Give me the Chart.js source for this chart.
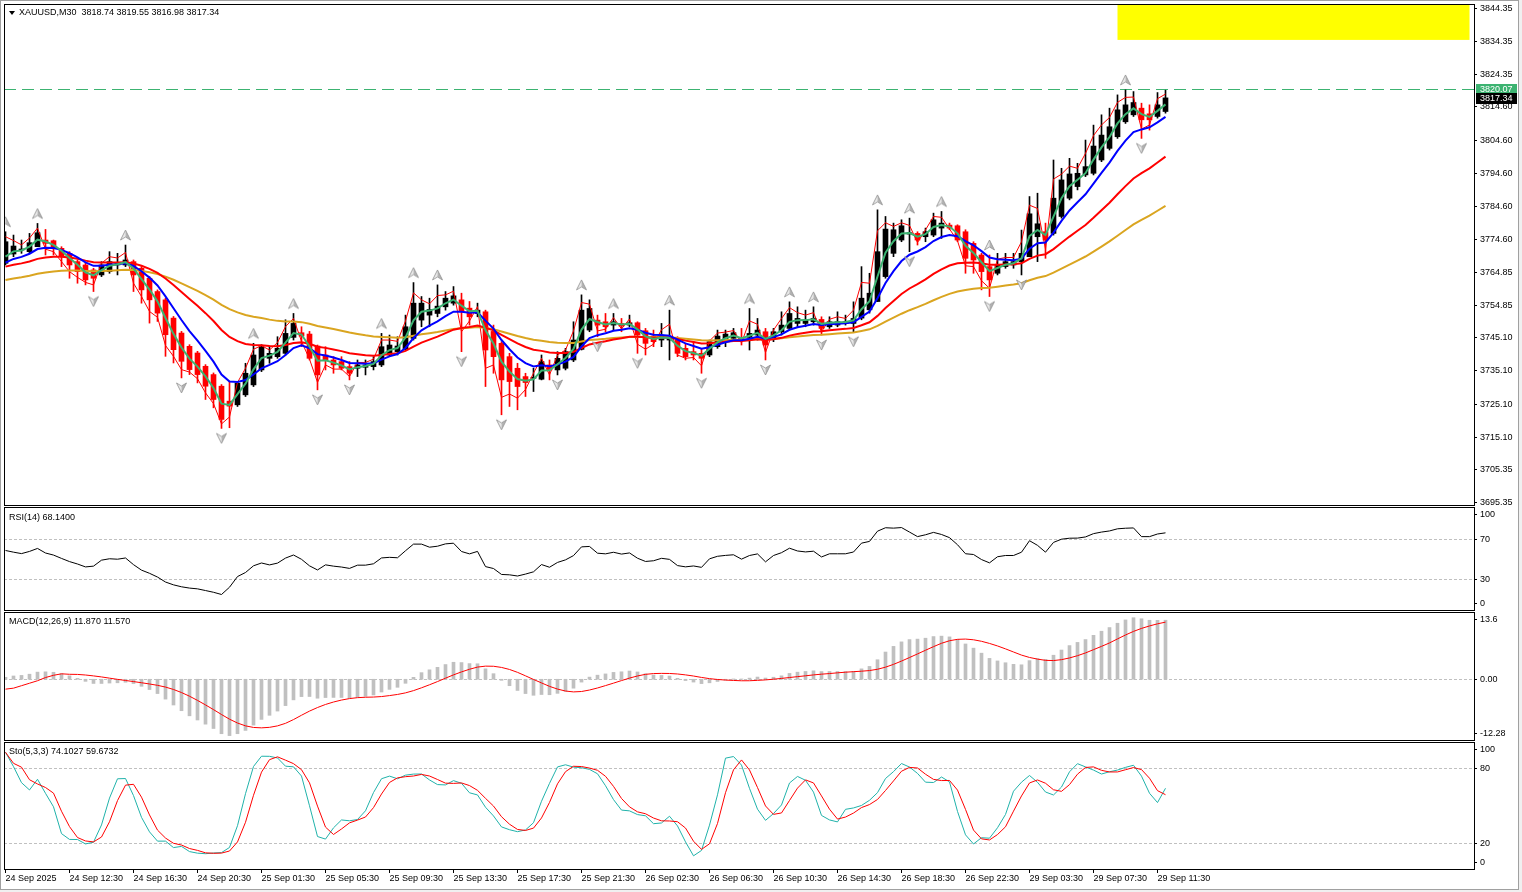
<!DOCTYPE html>
<html>
<head>
<meta charset="utf-8">
<title>XAUUSD,M30</title>
<script src="https://cdn.jsdelivr.net/npm/chart.js@4.4.1/dist/chart.umd.min.js"></script>
<style>
  html, body { margin:0; padding:0; background:#ffffff; overflow:hidden; }
  #wrap { position:relative; width:1522px; height:892px; background:#ffffff; }
  #wrap canvas { position:absolute; left:0; }
  .t { position:absolute; font-family:"Liberation Sans", Arial, sans-serif; font-size:9px; line-height:11px; color:#000; white-space:pre; }
  .fr { position:absolute; }
</style>
</head>
<body>
<div id="wrap">
  <canvas id="cMain" width="1522" height="507" style="top:0px;width:1522px;height:507px"></canvas>
  <canvas id="cRsi" width="1522" height="104" style="top:507px;width:1522px;height:104px"></canvas>
  <canvas id="cMacd" width="1522" height="130" style="top:611px;width:1522px;height:130px"></canvas>
  <canvas id="cSto" width="1522" height="151" style="top:741px;width:1522px;height:151px"></canvas>
  <div class="fr" style="left:9px;top:11px;width:0;height:0;border-left:3px solid transparent;border-right:3px solid transparent;border-top:4px solid #000"></div>
  <div class="t" style="left:19px;top:7px">XAUUSD,M30  3818.74 3819.55 3816.98 3817.34</div>
  <div class="t" style="left:9px;top:512px">RSI(14) 68.1400</div>
  <div class="t" style="left:9px;top:616px">MACD(12,26,9) 11.870 11.570</div>
  <div class="t" style="left:9px;top:746px">Sto(5,3,3) 74.1027 59.6732</div>
  <div class="fr" style="left:0;top:0;width:1518px;height:1px;background:#a0a0a0"></div>
  <div class="fr" style="left:0;top:0;width:1px;height:889px;background:#a0a0a0"></div>
  <div class="fr" style="left:1518px;top:0;width:1px;height:890px;background:#a0a0a0"></div>
  <div class="fr" style="left:1519px;top:0;width:3px;height:892px;background:#f0f0f0"></div>
  <div class="fr" style="left:0;top:889px;width:1519px;height:1px;background:#a0a0a0"></div>
  <div class="fr" style="left:0;top:890px;width:1522px;height:2px;background:#f0f0f0"></div>
</div>
<script>
// ---------------- DATA ----------------
const opens = [
 3767.5,3770.3,3771.5,3771.0,3772.5,3774.5,3774.3,3772.0,3770.5,3768.0,
 3767.0,3765.5,3764.0,3765.0,3767.0,3767.0,3768.0,3766.0,3763.0,3759.0,
 3756.5,3751.0,3746.5,3742.5,3740.5,3736.5,3734.0,3730.5,3726.0,3724.9,
 3727.9,3730.9,3735.4,3738.9,3739.4,3740.4,3745.2,3746.6,3746.2,3742.6,
 3739.9,3738.4,3737.9,3736.4,3735.9,3736.2,3736.4,3736.9,3739.9,3740.9,
 3741.6,3744.9,3750.4,3751.9,3752.4,3754.4,3755.5,3756.5,3754.0,3752.4,
 3752.9,3747.0,3743.4,3739.4,3735.9,3733.4,3732.9,3732.6,3736.9,3735.4,
 3735.9,3738.4,3741.6,3747.4,3750.4,3749.9,3748.9,3749.4,3748.9,3749.6,
 3747.2,3745.6,3744.4,3744.4,3744.4,3741.9,3740.9,3740.4,3739.9,3742.4,
 3744.4,3744.9,3745.2,3745.2,3745.9,3746.9,3744.9,3746.9,3747.9,3749.4,
 3749.4,3749.9,3750.6,3748.4,3748.9,3749.4,3749.4,3751.0,3753.5,3756.0,
 3763.5,3770.5,3774.5,3776.3,3776.5,3775.5,3776.0,3778.1,3779.0,3778.8,
 3777.0,3773.5,3770.0,3766.5,3764.5,3766.5,3767.0,3768.0,3769.5,3775.5,
 3777.0,3776.5,3781.6,3787.1,3790.6,3794.1,3794.6,3798.6,3802.1,3805.6,
 3810.1,3812.2,3814.2,3812.5,3811.7,3813.2];
const highs = [
 3777.0,3776.0,3774.5,3776.5,3779.5,3777.7,3774.5,3772.5,3771.0,3768.5,
 3767.5,3766.0,3768.0,3771.0,3770.5,3773.0,3768.5,3766.5,3763.5,3759.5,
 3757.0,3751.5,3747.0,3743.0,3741.0,3737.0,3734.5,3731.0,3732.0,3731.9,
 3737.4,3743.4,3743.0,3742.4,3745.4,3750.5,3752.4,3748.4,3747.0,3742.9,
 3742.4,3739.4,3739.4,3737.9,3738.4,3738.4,3739.4,3746.4,3745.9,3745.4,
 3751.9,3761.7,3757.5,3757.0,3761.0,3759.0,3760.5,3758.5,3756.0,3755.5,
 3753.4,3748.9,3743.9,3740.4,3737.4,3734.4,3735.9,3739.9,3738.4,3740.9,
 3741.9,3749.9,3758.0,3756.5,3751.9,3752.4,3752.4,3750.9,3751.9,3749.9,
 3747.9,3747.4,3749.4,3753.4,3745.4,3743.4,3743.9,3741.9,3744.4,3747.4,
 3747.4,3747.9,3747.9,3753.9,3750.9,3747.9,3747.9,3752.9,3755.9,3754.4,
 3753.4,3754.4,3751.4,3751.4,3752.9,3751.9,3755.9,3766.5,3764.5,3783.6,
 3781.6,3779.6,3780.6,3781.1,3777.0,3778.1,3782.6,3783.1,3779.6,3779.1,
 3777.6,3774.0,3770.5,3770.0,3770.5,3770.5,3770.5,3777.5,3787.6,3788.6,
 3779.6,3798.6,3796.1,3799.1,3797.6,3804.6,3809.1,3812.2,3814.2,3818.2,
 3819.7,3819.2,3815.7,3815.2,3818.9,3819.6];
const lows = [
 3767.0,3769.5,3770.5,3770.5,3772.5,3770.0,3770.0,3766.5,3763.0,3761.5,
 3761.0,3759.0,3763.5,3764.5,3764.0,3766.5,3759.0,3755.5,3749.5,3750.0,
 3739.5,3737.5,3733.0,3734.0,3731.5,3726.5,3724.0,3717.8,3718.0,3724.4,
 3727.4,3730.4,3734.9,3737.4,3738.9,3739.9,3744.4,3742.4,3738.4,3729.4,
 3735.4,3734.4,3735.4,3732.4,3733.4,3733.9,3735.4,3736.4,3739.4,3739.9,
 3741.4,3744.4,3748.4,3748.4,3751.4,3753.4,3754.9,3740.9,3748.9,3751.4,
 3730.4,3734.4,3721.9,3724.4,3723.4,3727.4,3728.9,3732.4,3732.4,3733.9,
 3735.4,3737.9,3741.4,3746.9,3745.4,3746.9,3747.4,3746.9,3748.4,3740.4,
 3739.9,3742.4,3742.4,3738.4,3739.4,3738.4,3738.4,3734.4,3739.4,3741.9,
 3742.4,3744.4,3742.9,3741.4,3744.4,3738.4,3743.9,3745.9,3747.4,3748.4,
 3748.4,3748.9,3745.9,3747.9,3748.4,3748.9,3746.9,3750.5,3752.5,3756.0,
 3763.0,3769.5,3774.0,3771.0,3773.0,3774.0,3775.5,3775.0,3777.6,3774.0,
 3764.5,3764.5,3759.5,3757.5,3764.0,3766.0,3766.0,3764.0,3769.5,3768.0,
 3769.0,3776.0,3781.1,3786.6,3789.6,3793.6,3794.1,3798.1,3801.6,3805.1,
 3809.6,3811.7,3805.1,3807.6,3811.2,3812.7];
const closes = [
 3774.0,3772.7,3771.6,3773.7,3776.7,3773.5,3772.0,3769.5,3767.0,3765.0,
 3762.5,3763.0,3767.0,3768.0,3767.7,3768.5,3764.0,3759.5,3756.5,3752.5,
 3746.0,3741.5,3738.0,3735.5,3734.0,3730.5,3726.5,3720.5,3724.5,3731.4,
 3734.4,3739.9,3742.4,3740.4,3741.9,3746.4,3749.4,3745.6,3738.9,3733.9,
 3738.4,3736.9,3735.9,3734.4,3736.9,3736.9,3737.9,3742.4,3742.9,3742.6,
 3748.4,3755.5,3755.5,3753.6,3754.6,3757.0,3757.7,3752.9,3751.4,3753.4,
 3741.4,3739.4,3732.4,3731.9,3730.4,3731.6,3733.0,3737.9,3735.4,3738.9,
 3740.9,3744.4,3753.4,3753.9,3748.9,3748.4,3749.9,3748.6,3749.6,3745.9,
 3743.4,3743.9,3745.6,3744.9,3740.4,3739.4,3739.9,3738.9,3743.9,3745.6,
 3746.2,3746.6,3744.2,3746.4,3747.4,3742.9,3746.9,3748.9,3752.4,3750.9,
 3750.4,3750.9,3747.9,3749.9,3749.9,3749.9,3750.9,3757.0,3758.5,3771.0,
 3777.8,3777.6,3778.8,3776.7,3774.5,3777.0,3780.6,3779.6,3778.1,3774.5,
 3769.0,3768.5,3765.0,3762.5,3767.0,3768.0,3768.0,3770.5,3782.4,3779.4,
 3774.5,3787.1,3792.6,3794.4,3794.6,3796.6,3802.8,3806.1,3808.6,3813.7,
 3815.2,3815.9,3810.7,3810.7,3815.2,3817.3];

const upFractals   = [0,4,15,31,36,47,51,54,72,76,83,93,98,101,109,113,117,123,140];
const downFractals = [11,22,27,39,43,57,62,69,74,79,87,95,102,106,113,123,127,142];

const timeTickLabels = ['24 Sep 2025','24 Sep 12:30','24 Sep 16:30','24 Sep 20:30','25 Sep 01:30',
  '25 Sep 05:30','25 Sep 09:30','25 Sep 13:30','25 Sep 17:30','25 Sep 21:30','26 Sep 02:30',
  '26 Sep 06:30','26 Sep 10:30','26 Sep 14:30','26 Sep 18:30','26 Sep 22:30','29 Sep 03:30',
  '29 Sep 07:30','29 Sep 11:30'];
const priceTickLabels = ['3844.35','3834.35','3824.35','3814.60','3804.60','3794.60','3784.60','3774.60',
  '3764.85','3754.85','3745.10','3735.10','3725.10','3715.10','3705.35','3695.35'];
const rsiTickLabels   = ['100','70','30','0'];
const macdTickLabels  = ['13.6','0.00','-12.28'];
const stochTickLabels = ['100','80','20','0'];
const rsiLevels   = [70, 30];
const macdLevels  = [0];
const stochLevels = [80, 20];

// indicator settings and start values read at the first bar
const maPeriods = [3, 8, 21, 45];
const maSeeds   = [3769.5, 3767.7, 3766.5, 3762.5];
const rsiSeedGainLoss = [2.0, 1.4];
const macdEmaSeeds    = [3769.0, 3768.6];
const macdSignalSeed  = [-2.0, -1.8, -1.3, -0.8, -0.3, 0.35, 0.8, 1.1];
const stochKSeed      = [92.5, 81.1, 68.3, 62.5, 71.0, 59.8];
const stochDSeed      = [92.5, 83.7];

const hLineValue = 3820.07;
const bidValue   = 3817.34;
const rectBars   = [139, 183];
const rectPrices = [3834.75, 3847.0];

// ---------------- derived series ----------------
const N = closes.length;
const idx = Array.from({length: N}, (_, i) => i);
function ema(src, period, seed) {
  const k = 2 / (period + 1), out = [seed];
  for (let i = 1; i < src.length; i++) out.push(out[i-1] + k * (src[i] - out[i-1]));
  return out;
}
const maLines = maPeriods.map((p, j) => ema(closes, p, maSeeds[j]));
const thinLine = closes.map((c, i) => c >= opens[i] ? (highs[i] + c) / 2 : (lows[i] + c) / 2);

const rsi = [];
(function(){
  let ag = rsiSeedGainLoss[0], al = rsiSeedGainLoss[1];
  rsi.push(100 - 100 / (1 + ag / al));
  for (let i = 1; i < N; i++) {
    const d = closes[i] - closes[i-1];
    ag = (ag * 13 + Math.max(d, 0)) / 14;
    al = (al * 13 + Math.max(-d, 0)) / 14;
    rsi.push(al === 0 ? 100 : 100 - 100 / (1 + ag / al));
  }
})();

const e12 = ema(closes, 12, macdEmaSeeds[0]);
const e26 = ema(closes, 26, macdEmaSeeds[1]);
const macdMain = e12.map((v, i) => v - e26[i]);
const macdSignal = macdMain.map((_, i) => {
  if (i < macdSignalSeed.length) return macdSignalSeed[i];
  let s = 0; for (let j = i - 8; j <= i; j++) s += macdMain[j]; return s / 9;
});

const stK = closes.map((c, i) => {
  if (i < stochKSeed.length) return stochKSeed[i];
  let num = 0, den = 0;
  for (let j = i - 2; j <= i; j++) {
    const hh = Math.max(...highs.slice(j - 4, j + 1));
    const ll = Math.min(...lows.slice(j - 4, j + 1));
    num += closes[j] - ll; den += hh - ll;
  }
  return den ? num / den * 100 : 100;
});
const stD = stK.map((_, i) => i < stochDSeed.length ? stochDSeed[i] : (stK[i] + stK[i-1] + stK[i-2]) / 3);

// ---------------- drawing ----------------
const FONT_FAMILY = '"Liberation Sans", Arial, sans-serif';
Chart.defaults.font = { family: FONT_FAMILY, size: 9 };
Chart.defaults.color = '#000';

const X_MIN = -0.1875, X_MAX = X_MIN + 1470 / 8;
const candleColors = closes.map((c, i) => c >= opens[i] ? '#000000' : '#ff0000');
const pts = arr => arr.map((v, i) => ({x: i, y: v}));

function arrowImg(up) {
  const c = document.createElement('canvas'); c.width = 13; c.height = 44;
  const g = c.getContext('2d');
  const cx = 6.5, s = up ? 1 : -1, cy = 22 - 10 * s;
  g.beginPath(); g.moveTo(cx, cy - 5*s); g.lineTo(cx, cy + 2*s); g.lineTo(cx - 5, cy + 5*s); g.closePath();
  g.fillStyle = '#e8e8e8'; g.fill();
  g.beginPath(); g.moveTo(cx, cy - 5*s); g.lineTo(cx + 5, cy + 5*s); g.lineTo(cx, cy + 2*s); g.closePath();
  g.fillStyle = '#b4b4b4'; g.fill();
  g.beginPath(); g.moveTo(cx, cy - 5*s); g.lineTo(cx + 5, cy + 5*s); g.lineTo(cx, cy + 2*s); g.lineTo(cx - 5, cy + 5*s); g.closePath();
  g.strokeStyle = '#909090'; g.lineWidth = 0.8; g.stroke();
  return c;
}
const upImg = arrowImg(true), downImg = arrowImg(false);

const framePlugin = {
  id: 'paneFrame',
  afterDraw(chart) {
    const a = chart.chartArea, c = chart.ctx;
    c.save(); c.strokeStyle = '#000'; c.lineWidth = 1; c.setLineDash([]);
    c.strokeRect(a.left + 0.5, a.top + 0.5, a.right - a.left, a.bottom - a.top);
    c.restore();
  }
};
const levelPlugin = {
  id: 'levels',
  beforeDatasetsDraw(chart, args, o) {
    if (!o || !o.values) return;
    const a = chart.chartArea, s = chart.scales.y, c = chart.ctx;
    c.save(); c.strokeStyle = '#c0c0c0'; c.lineWidth = 1; c.setLineDash([3, 2]);
    o.values.forEach(v => {
      const y = Math.round(s.getPixelForValue(v)) + 0.5;
      c.beginPath(); c.moveTo(a.left, y); c.lineTo(a.right, y); c.stroke();
    });
    c.restore();
  }
};
const sideLabelPlugin = {
  id: 'sideLabels',
  afterDraw(chart, args, o) {
    if (!o || !o.labels) return;
    const a = chart.chartArea, s = chart.scales.y, c = chart.ctx;
    c.save(); c.font = '9px ' + FONT_FAMILY; c.fillStyle = '#000'; c.strokeStyle = '#000'; c.lineWidth = 1;
    c.textAlign = 'left'; c.textBaseline = 'middle';
    o.labels.forEach(t => {
      let y = s.getPixelForValue(parseFloat(t));
      y = Math.min(Math.max(y, a.top + 7), a.bottom - 7);
      const yr = Math.round(y) + 0.5;
      c.beginPath(); c.moveTo(a.right, yr); c.lineTo(a.right + 3, yr); c.stroke();
      c.fillText(t, a.right + 6, y + 0.5);
    });
    c.restore();
  }
};
const mainDecor = {
  id: 'mainDecor',
  beforeDatasetsDraw(chart) {
    const a = chart.chartArea, c = chart.ctx, xs = chart.scales.x, ys = chart.scales.y;
    c.save();
    c.beginPath(); c.rect(a.left, a.top, a.right - a.left, a.bottom - a.top); c.clip();
    const x0 = xs.getPixelForValue(rectBars[0]), x1 = xs.getPixelForValue(rectBars[1]);
    const y0 = ys.getPixelForValue(rectPrices[1]), y1 = ys.getPixelForValue(rectPrices[0]);
    c.fillStyle = '#ffff00'; c.fillRect(x0, y0, x1 - x0, y1 - y0);
    const yl = Math.round(ys.getPixelForValue(hLineValue)) + 0.5;
    c.strokeStyle = 'rgb(60,179,113)'; c.lineWidth = 1; c.setLineDash([12, 6]);
    c.beginPath(); c.moveTo(a.left, yl); c.lineTo(a.right, yl); c.stroke();
    c.restore();
  },
  afterDraw(chart) {
    const a = chart.chartArea, c = chart.ctx, ys = chart.scales.y;
    c.save(); c.font = '9px ' + FONT_FAMILY; c.textAlign = 'left'; c.textBaseline = 'middle';
    [[hLineValue, 'rgb(60,179,113)'], [bidValue, '#000000']].forEach(([v, col]) => {
      const y = Math.round(ys.getPixelForValue(v));
      c.fillStyle = col; c.fillRect(a.right + 2, y - 5, 41, 11);
      c.fillStyle = '#ffffff'; c.fillText(v.toFixed(2), a.right + 6, y + 0.5);
    });
    c.restore();
  }
};

function xScale(show) {
  const x = { type: 'linear', min: X_MIN, max: X_MAX, offset: false, display: show,
    grid: { display: false }, border: { display: false } };
  if (show) {
    x.afterFit = s => { s.height = 23; s.paddingLeft = 0; s.paddingRight = 0; };
    x.afterBuildTicks = s => { s.ticks = timeTickLabels.map((t, k) => ({ value: k * 8 })); };
    x.ticks = { autoSkip: false, maxRotation: 0, minRotation: 0, align: 'start', padding: 0, color: '#000',
      callback: (v, i) => timeTickLabels[i] };
    x.grid = { display: true, drawOnChartArea: false, drawTicks: true, tickLength: 4, color: '#000', offset: false };
  }
  return x;
}
function subY(min, max) {
  return { position: 'right', min, max,
    afterFit: s => { s.width = 48; s.paddingTop = 0; s.paddingBottom = 0; },
    ticks: { display: false }, grid: { display: false }, border: { display: false } };
}
function baseOpts(pad, yOpts, plugs, showX) {
  return {
    responsive: false, animation: false, events: [],
    layout: { autoPadding: false, padding: { left: 4, right: 0, top: pad[0], bottom: pad[1] } },
    plugins: Object.assign({ legend: { display: false }, tooltip: { enabled: false } }, plugs),
    scales: { x: xScale(showX), y: yOpts }
  };
}

// ---- main price pane ----
const maColors = ['rgb(60,179,113)', '#0000ff', '#ff0000', '#daa520'];
const maOrders = [4, 5, 6, 7];
const mainDatasets = [
  { type: 'bar', label: 'wicks', data: idx.map(i => ({x: i, y: [lows[i], highs[i]]})),
    backgroundColor: candleColors, barThickness: 1, grouped: false, order: 10 },
  { type: 'bar', label: 'bodies', data: idx.map(i => ({x: i, y: [opens[i], closes[i]]})),
    backgroundColor: candleColors, barThickness: 5, grouped: false, minBarLength: 1, order: 9 },
  { type: 'line', label: 'thin', data: pts(thinLine), borderColor: '#ff0000', borderWidth: 1,
    pointRadius: 0, tension: 0, order: 8 },
  ...maLines.map((m, j) => ({ type: 'line', label: 'MA' + maPeriods[j], data: pts(m), borderColor: maColors[j],
    borderWidth: 2, pointRadius: 0, tension: 0, order: maOrders[j] })),
  { type: 'scatter', label: 'up', data: upFractals.map(i => ({x: i, y: highs[i]})),
    pointStyle: upImg, pointRadius: 5, order: 1 },
  { type: 'scatter', label: 'down', data: downFractals.map(i => ({x: i, y: lows[i]})),
    pointStyle: downImg, pointRadius: 5, order: 1 }
];
const mainY = {
  position: 'right', min: 3694.74, max: 3845.56,
  afterFit: s => { s.width = 48; s.paddingTop = 0; s.paddingBottom = 0; },
  afterBuildTicks: s => { s.ticks = priceTickLabels.map(t => ({ value: parseFloat(t) })); },
  ticks: { autoSkip: false, padding: 3, color: '#000', callback: v => Number(v).toFixed(2) },
  grid: { display: true, drawOnChartArea: false, drawTicks: true, tickLength: 3, color: '#000' },
  border: { display: false }
};
new Chart(document.getElementById('cMain'), {
  type: 'bar', data: { datasets: mainDatasets },
  options: baseOpts([4, 2], mainY, {}, false),
  plugins: [mainDecor, framePlugin]
});

// ---- RSI pane ----
new Chart(document.getElementById('cRsi'), {
  type: 'line',
  data: { datasets: [{ data: pts(rsi), borderColor: '#000000', borderWidth: 1, pointRadius: 0, tension: 0 }] },
  options: baseOpts([0, 1], subY(-0.7, 102.3), { levels: { values: rsiLevels }, sideLabels: { labels: rsiTickLabels } }, false),
  plugins: [levelPlugin, sideLabelPlugin, framePlugin]
});

// ---- MACD pane ----
new Chart(document.getElementById('cMacd'), {
  type: 'bar',
  data: { datasets: [
    { type: 'line', data: pts(macdSignal), borderColor: '#ff0000', borderWidth: 1, pointRadius: 0, tension: 0, order: 1 },
    { type: 'bar', data: pts(macdMain), backgroundColor: '#c0c0c0', barThickness: 3, grouped: false, order: 2 }
  ] },
  options: baseOpts([1, 1], subY(-12.28, 13.6), { levels: { values: macdLevels }, sideLabels: { labels: macdTickLabels } }, false),
  plugins: [levelPlugin, sideLabelPlugin, framePlugin]
});

// ---- Stochastic pane ----
new Chart(document.getElementById('cSto'), {
  type: 'line',
  data: { datasets: [
    { data: pts(stK), borderColor: '#20b2aa', borderWidth: 1, pointRadius: 0, tension: 0, order: 2 },
    { data: pts(stD), borderColor: '#ff0000', borderWidth: 1, pointRadius: 0, tension: 0, order: 1 }
  ] },
  options: baseOpts([1, 0], subY(-0.5, 100.7), { levels: { values: stochLevels }, sideLabels: { labels: stochTickLabels } }, true),
  plugins: [levelPlugin, sideLabelPlugin, framePlugin]
});
</script>
</body>
</html>
